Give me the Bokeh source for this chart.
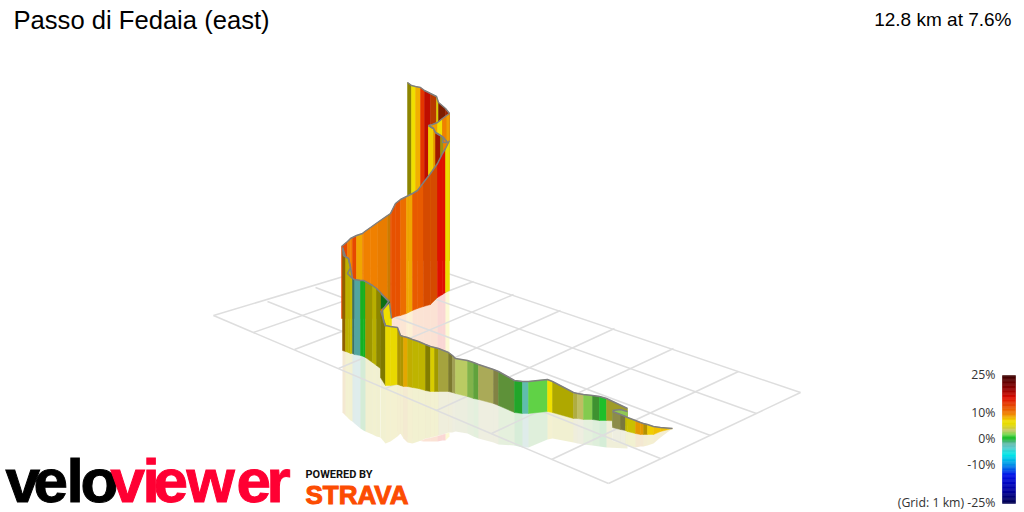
from bokeh.plotting import figure
from bokeh.models import Range1d
from bokeh.core.properties import value
from bokeh.embed import file_html
from bokeh.resources import INLINE
import numpy as np

# colour scale (gradient % -> colour)
scale_pct = [-25,-20,-14,-10,-6,-3,-1.5,0.3,1,2,3.5,5.5,7,8.5,10,12,16,20,25]
scale_rgb = ["#000050","#0000a0","#0010e8","#0090e8","#00e8e8","#60c8c8","#60b8a0","#10b820","#30c838","#80d850",
             "#c8c868","#e0d800","#f0e000","#f0b000","#f08000","#e85a00","#e01000","#8a0000","#3a0000"]
legend_ticks = ["25%","10%","0%","-10%"]
legend_tick_vals = [25,10,0,-10]

title_left = "Passo di Fedaia (east)"
title_right = "12.8 km at 7.6%"
grid_note = "(Grid: 1 km) -25%"

# floor grid nodes as seen on screen
lt_x=[213,267,315,360,403]; lt_y=[315,301,287,272,258]
br_x=[608,660,710,756,800]; br_y=[483,458,435,413,392]
lb_x=[213,253,294,338,385,436,491,551,608]; lb_y=[315,332,349,368,388,410,433,459,483]
tr_x=[403,437,473,513,560,614,673,738,800]; tr_y=[258,268,281,294,310,328,348,371,392]

# route walls: screen x, top, bottom, reflection floor at each stripe edge; gradient and lighting per stripe
s4_x=[407,411,415,420,424,430,436,438,445,449]
s4_top=[82,85,86,87,90,93,96,102,108,113]
s4_bot=[260]*10
s4_grad=[6.5,7,8.5,14,16,13,7,14,14]
s4_light=[.6,1,1,1,.85,.8,.9,.55,.7]

s3_x=[428,432,437,442,446,449]
s3_top=[125,124,122,118,115,113]
s3_bot=[260]*6
s3_grad=[8,9,7,10,9]
s3_light=[1,1,1,1,1]

s2_x=[428,433,435,440,443,447]
s2_top=[125,128,132,135,137,142]
s2_bot=[260]*6
s2_grad=[7.5,9,15,5,10]
s2_light=[1,.95,.7,.7,1]

s1_x=[341,347,350,352,356,362,363,370,377,387,390,391,395,400,406,408,412,417,423,430,437,442,445,449]
s1_top=[246,241,238,237,235,233,232,227,222,215,213,211,203,199,196,195,193,190,182,173,163,153,148,140]
s1_bot=[318,318,318,318,318,318,318,318,318,318,318,318,316,315,313,312,310,308,306,304,297,294,292,290]
s1_ref=[318,318,318,318,318,318,318,318,318,318,318,425,430,432,436,437,438,440,441,441,441,440,440,436]
s1_grad=[13,10,10,13,8.8,10,10,10,10,9.5,12.5,12.5,12.5,11,8.8,8.8,12,12,12.5,12.5,16,16,6.5]
s1_light=[1,1,1,1,1,1,1,1,.97,.85,1,1,1,1,1,1,1,1,.92,.92,1,1,1]

d_x=[342,345,348,350,352,354,360,363,365,372,376,380]
d_top=[247,256,258,267,278,279,280,280,281,285,288,292]
d_bot=[350,351,352,353,353,354,355,356,357,362,365,368]
d_ref=[412,415,418,420,421,423,428,430,431,434,436,437]
d_grad=[9,6.5,6.5,6,-2,-2.5,.4,.4,5.5,6,5.5]
d_light=[.6,.8,.8,.85,.6,.85,.95,.95,.7,.8,.62]

tri_x=[380,389]; tri_top=[293,301]; tri_bot=[309,302]; tri_grad=[.4]; tri_light=[.6]
g_x=[382,389,391]; g_top=[309,302,318]; g_bot=[326,326,326]; g_grad=[6.8,6.8]; g_light=[1,1]

h_x=[380,385,390,397,400,403,407,412,418,425,430,434,438,448,452,455,467,473,478,493,498,514,522,528,547,552,573,577,583,592,599,606,627]
h_top=[310,325,326,327,335,336,337,339,341,344,346,347,348,352,355,358,360,362,364,369,371,380,381,381,379,381,392,393,394,395,396,398,408]
h_bot=[377,385,385,384,385,386,386,387,388,390,391,391,391,391,392,393,396,398,399,403,405,412,413,413,411,412,418,418,419,419,420,420,421]
h_ref=[437,443,441,436,433,438,442,443,441,438,437,436,435,432,432,431,433,436,438,442,444,445,447,447,439,438,442,443,444,445,446,447,448]
h_grad=[6,7,7,7.5,7.5,8.5,7.2,6.2,6.2,5.5,6.5,6,4,4,3.5,3.2,2.5,2,3.5,3.5,2.2,.8,-2,1.6,7,5.5,4,3.5,2.2,1.5,.6,4.5]
h_light=[.55,.97,.97,.72,.72,.95,.8,.82,.82,.58,.92,.7,.8,.6,.8,1,.85,.75,.85,.65,.68,.85,1,1,1,.78,.85,.95,.95,.7,1,.75]

k_x=[612,620,627]; k_top=[410,409,411]; k_bot=[425,425,425]; k_grad=[2.5,2.5]; k_light=[.95,.95]

j_x=[612,620,625,627,635,640,643,647,653,660,672]
j_top=[411,414,416,417,420,422,423,424,426,427,428]
j_bot=[427,429,430,431,433,434,434,434,434,431,428]
j_ref=[440,442,444,445,447,446,446,445,443,437,428]
j_grad=[3.5,3.5,6,6,9,9,8,7.6,8,8]
j_light=[.7,.6,.85,.88,.95,.95,.75,1,1,1]

bend1_x=[342,343,348,350,347,352]; bend1_y=[247,255,258,267,273,278]
bend2_x=[380,388,382,383,385]; bend2_y=[292,301,310,320,326]
bend3_x=[447,442,443,435,433,428]; bend3_y=[142,142,137,132,128,125]

_rgb = np.array([[int(c[i:i+2],16) for i in (1,3,5)] for c in scale_rgb],float)
def col(g, light=1.0):
    c=[np.interp(g,scale_pct,_rgb[:,i])*light for i in range(3)]
    return "#%02x%02x%02x"%tuple(int(round(v)) for v in c)

W,H=1024,512
p=figure(width=W,height=H,x_range=Range1d(0,W),y_range=Range1d(H,0),
         x_axis_location=None,y_axis_location=None,toolbar_location=None,
         output_backend="svg",min_border=0,outline_line_color=None)
p.grid.visible=False
p.background_fill_color="white"; p.border_fill_color="white"

def wall(x,top,bot,grad,light):
    xs=[[x[i],x[i+1],x[i+1],x[i]] for i in range(len(grad))]
    ys=[[top[i],top[i+1],bot[i+1],bot[i]] for i in range(len(grad))]
    cs=[col(g,l) for g,l in zip(grad,light)]
    p.patches(xs,ys,fill_color=cs,line_color=cs,line_width=.5)
def mirror(x,bot,ref,grad,alpha=.18,mask=True,light=.8):
    xs=[[x[i],x[i+1],x[i+1],x[i]] for i in range(len(grad))]
    ys=[[bot[i],bot[i+1],ref[i+1],ref[i]] for i in range(len(grad))]
    cs=[col(g,light) for g in grad]
    if mask:
        p.patches(xs,ys,fill_color="white",line_color="white",line_width=.5)
    p.patches(xs,ys,fill_color=cs,fill_alpha=alpha,line_color=None)

mirror(s1_x,s1_bot,s1_ref,s1_grad,.17,False,1.0)
mirror(d_x,d_bot,d_ref,d_grad)
mirror(h_x,h_bot,h_ref,h_grad)
mirror(j_x,j_bot,j_ref,j_grad)

# grid, seen through the pale reflection
gc="#dedede"
p.multi_line([[a,b] for a,b in zip(lt_x,br_x)],[[a,b] for a,b in zip(lt_y,br_y)],line_color=gc,line_width=1.5)
p.multi_line([[a,b] for a,b in zip(lb_x,tr_x)],[[a,b] for a,b in zip(lb_y,tr_y)],line_color=gc,line_width=1.5)

line_c="#7f7f7f"
for w in [(s4_x,s4_top,s4_bot,s4_grad,s4_light),(s3_x,s3_top,s3_bot,s3_grad,s3_light),
          (s2_x,s2_top,s2_bot,s2_grad,s2_light),(s1_x,s1_top,s1_bot,s1_grad,s1_light),
          (g_x,g_top,g_bot,g_grad,g_light),(tri_x,tri_top,tri_bot,tri_grad,tri_light),
          (d_x,d_top,d_bot,d_grad,d_light),(h_x,h_top,h_bot,h_grad,h_light),
          (k_x,k_top,k_bot,k_grad,k_light),(j_x,j_top,j_bot,j_grad,j_light)]:
    wall(*w)
    p.line(w[0],w[1],line_color=line_c,line_width=1.5)
for a,b in [(bend1_x,bend1_y),(bend2_x,bend2_y),(bend3_x,bend3_y)]:
    p.line(a,b,line_color=line_c,line_width=1.5)

# legend bar
pcts=np.arange(25,-25,-0.5)
bar_c=[col(v-.25) for v in pcts]
p.quad(left=1002,right=1015,top=[375+(25-v)*2.56 for v in pcts],bottom=[375+(25-v+.5)*2.56 for v in pcts],
       fill_color=bar_c,line_color=bar_c,line_width=.5)
p.text(x=[995]*4,y=[375+(25-v)*2.56-1 for v in legend_tick_vals],text=legend_ticks,text_align="right",text_baseline="middle",
       text_font=value("Open Sans"),text_font_size="12.3px",text_color="#333333")
p.text(x=[995],y=[502],text=[grid_note],text_align="right",text_baseline="middle",
       text_font=value("Open Sans"),text_font_size="12.3px",text_color="#333333")

# titles
p.text(x=[13],y=[19],text=[title_left],text_baseline="middle",text_font=value("Liberation Sans"),text_font_size="25.6px",text_color="#000000")
p.text(x=[1011],y=[19],text=[title_right],text_align="right",text_baseline="middle",text_font=value("Liberation Sans"),text_font_size="19px",text_color="#000000")

# logos
velo=list("velo"); velo_x=[5,33,66,80]
view=list("viewer"); view_x=[110,142,153,186,236,266]
p.text(x=velo_x,y=[480]*4,text=velo,text_baseline="middle",text_font=value("Liberation Sans"),text_font_style="bold",text_font_size="62px",text_color="#000000",text_outline_color="#000000")
p.text(x=view_x,y=[480]*6,text=view,text_baseline="middle",text_font=value("Liberation Sans"),text_font_style="bold",text_font_size="62px",text_color="#ff0033",text_outline_color="#ff0033")
p.text(x=[305],y=[474],text=["POWERED BY"],text_baseline="middle",text_font=value("Roboto"),text_font_style="bold",text_font_size="11px",text_color="#111111")
p.text(x=[305],y=[494],text=["STRAVA"],text_baseline="middle",text_font=value("Liberation Sans"),text_font_style="bold",text_font_size="26px",text_color="#fc4c02",text_outline_color="#fc4c02")

open("out.html","w").write(file_html(p,INLINE))
